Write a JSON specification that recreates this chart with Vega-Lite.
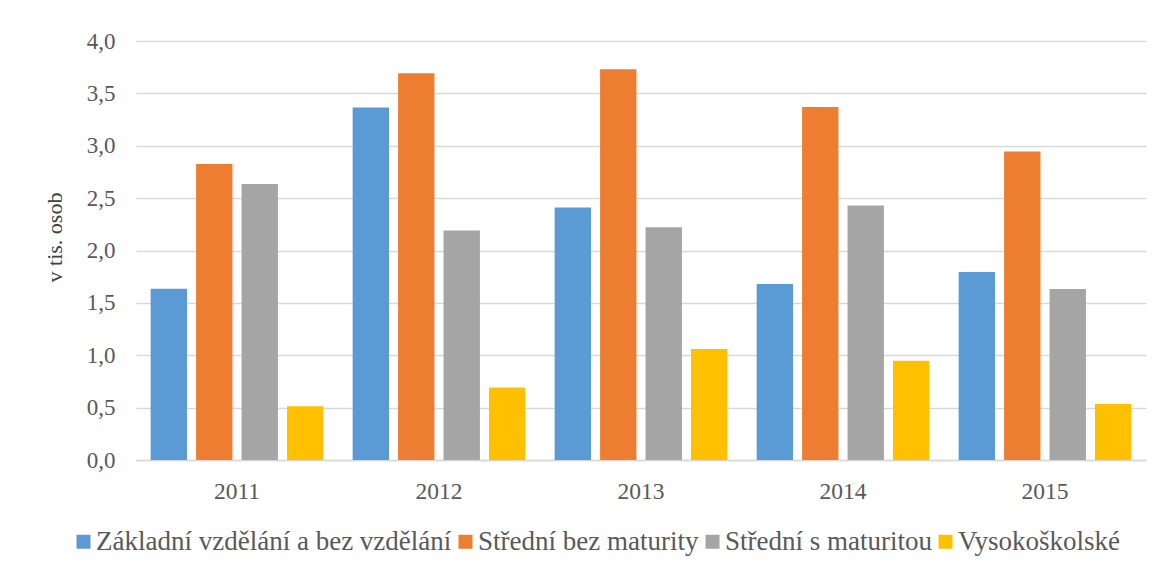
{
  "$schema": "https://vega.github.io/schema/vega-lite/v6.json",
  "autosize": {"type": "none"},
  "padding": {"left": 136, "top": 41, "right": 20, "bottom": 111},
  "width": 1010,
  "height": 419,
  "background": "white",
  "data": {"values": [
    {"rok": "2011", "vzdelani": "Základní vzdělání a bez vzdělání", "hodnota": 1.635},
    {"rok": "2011", "vzdelani": "Střední bez maturity", "hodnota": 2.825},
    {"rok": "2011", "vzdelani": "Střední s maturitou", "hodnota": 2.634},
    {"rok": "2011", "vzdelani": "Vysokoškolské", "hodnota": 0.512},
    {"rok": "2012", "vzdelani": "Základní vzdělání a bez vzdělání", "hodnota": 3.365},
    {"rok": "2012", "vzdelani": "Střední bez maturity", "hodnota": 3.693},
    {"rok": "2012", "vzdelani": "Střední s maturitou", "hodnota": 2.19},
    {"rok": "2012", "vzdelani": "Vysokoškolské", "hodnota": 0.693},
    {"rok": "2013", "vzdelani": "Základní vzdělání a bez vzdělání", "hodnota": 2.41},
    {"rok": "2013", "vzdelani": "Střední bez maturity", "hodnota": 3.731},
    {"rok": "2013", "vzdelani": "Střední s maturitou", "hodnota": 2.223},
    {"rok": "2013", "vzdelani": "Vysokoškolské", "hodnota": 1.059},
    {"rok": "2014", "vzdelani": "Základní vzdělání a bez vzdělání", "hodnota": 1.679},
    {"rok": "2014", "vzdelani": "Střední bez maturity", "hodnota": 3.371},
    {"rok": "2014", "vzdelani": "Střední s maturitou", "hodnota": 2.43},
    {"rok": "2014", "vzdelani": "Vysokoškolské", "hodnota": 0.948},
    {"rok": "2015", "vzdelani": "Základní vzdělání a bez vzdělání", "hodnota": 1.794},
    {"rok": "2015", "vzdelani": "Střední bez maturity", "hodnota": 2.945},
    {"rok": "2015", "vzdelani": "Střední s maturitou", "hodnota": 1.632},
    {"rok": "2015", "vzdelani": "Vysokoškolské", "hodnota": 0.534}
  ]},
  "mark": {"type": "bar"},
  "encoding": {
    "x": {
      "field": "rok", "type": "nominal",
      "scale": {"paddingInner": 0.1, "paddingOuter": 0.05},
      "axis": {"title": null, "labelAngle": 0, "labelFont": "Liberation Serif", "labelFontSize": 23.5, "labelColor": "#595959", "labelPadding": 19, "ticks": false, "domainColor": "#d9d9d9", "domainWidth": 1.5}
    },
    "xOffset": {
      "field": "vzdelani", "type": "nominal",
      "sort": ["Základní vzdělání a bez vzdělání", "Střední bez maturity", "Střední s maturitou", "Vysokoškolské"],
      "scale": {"paddingInner": 0.2, "paddingOuter": 0.1}
    },
    "y": {
      "field": "hodnota", "type": "quantitative",
      "scale": {"domain": [0, 4]},
      "axis": {"title": "v tis. osob", "titleY": 196, "values": [0, 0.5, 1, 1.5, 2, 2.5, 3, 3.5, 4], "labelExpr": "replace(format(datum.value, '.1f'), '.', ',')", "labelFont": "Liberation Serif", "labelFontSize": 23, "labelColor": "#595959", "labelPadding": 21, "ticks": false, "domain": false, "grid": true, "gridColor": "#d9d9d9", "gridWidth": 1.5, "titleFont": "Liberation Serif", "titleFontSize": 22, "titleFontWeight": "normal", "titleColor": "#404040", "titlePadding": 20}
    },
    "color": {
      "field": "vzdelani", "type": "nominal",
      "sort": ["Základní vzdělání a bez vzdělání", "Střední bez maturity", "Střední s maturitou", "Vysokoškolské"],
      "scale": {"range": ["#5B9BD5", "#ED7D31", "#A5A5A5", "#FFC000"]},
      "legend": {"title": null, "orient": "none", "legendX": -66, "legendY": 487, "direction": "horizontal", "symbolType": "square", "symbolSize": 196, "symbolStrokeWidth": 0, "labelFont": "Liberation Serif", "labelFontSize": 27, "labelColor": "#595959", "labelOffset": -1, "columnPadding": -2, "labelLimit": 600}
    }
  },
  "config": {"font": "Liberation Serif", "legend": {"labelFont": "Liberation Serif"}, "view": {"stroke": null}}
}
